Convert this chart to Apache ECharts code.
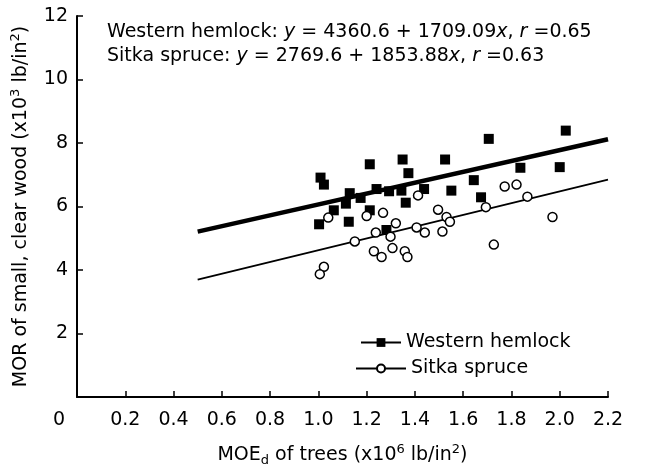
<!DOCTYPE html>
<html>
<head>
<meta charset="utf-8">
<script src="https://cdn.jsdelivr.net/npm/echarts@6/dist/echarts.min.js"></script>
<style>html,body{margin:0;padding:0;background:#fff}#c{width:645px;height:472px}</style>
</head>
<body>
<div id="c"></div>
<script>
// ---- data (MOE_d x10^6 lb/in^2, MOR x10^3 lb/in^2) ----
const hemlockPts = [[1.009,6.91],[1.023,6.69],[1.13,6.42],[1.213,7.33],[1.241,6.55],[1.114,6.09],[1.064,5.88],[1.003,5.44],[1.126,5.52],[1.175,6.27],[1.213,5.88],[1.293,6.48],[1.344,6.50],[1.349,7.48],[1.373,7.05],[1.362,6.12],[1.282,5.26],[1.438,6.55],[1.525,7.48],[1.551,6.50],[1.644,6.83],[1.674,6.29],[1.706,8.13],[2.025,8.39],[1.837,7.22],[2.0,7.24]];
const sitkaPts = [[1.041,5.65],[1.20,5.70],[1.268,5.80],[1.413,6.35],[1.496,5.90],[1.531,5.67],[1.545,5.52],[1.694,5.98],[1.321,5.47],[1.238,5.18],[1.299,5.05],[1.407,5.34],[1.441,5.18],[1.514,5.21],[1.151,4.90],[1.230,4.59],[1.262,4.41],[1.307,4.69],[1.358,4.59],[1.369,4.41],[1.023,4.10],[1.006,3.87],[1.727,4.80],[1.772,6.63],[1.821,6.69],[1.866,6.31],[1.97,5.67]];
const hemlockFit = [[0.5,5.21],[2.2,8.12]];
const sitkaFit = [[0.5,3.70],[2.2,6.85]];
const xTicks = [0.2,0.4,0.6,0.8,1.0,1.2,1.4,1.6,1.8,2.0,2.2];
const xLabels = [0,0.2,0.4,0.6,0.8,1.0,1.2,1.4,1.6,1.8,2.0,2.2];
const yTicks = [2,4,6,8,10,12];
const yLabels = [2,4,6,8,10,12];
const seriesNames = ['Western hemlock','Sitka spruce'];

const FONT = '"DejaVu Sans", "Liberation Sans", Arial, sans-serif';
const FS = 19;
const chart = echarts.init(document.getElementById('c'), null, {renderer:'canvas'});
chart.setOption({
  animation:false,
  backgroundColor:'#fff',
  textStyle:{fontFamily:FONT,color:'#000'},
  grid:{left:77,right:37,top:16,bottom:69,containLabel:false},
  title:{
    left:107, top:20, padding:0,
    text:'{n|Western hemlock: }{i|y}{n| = 4360.6 + 1709.09}{i|x}{n|, }{i|r}{n| =0.65}\n{n|Sitka spruce: }{i|y}{n| = 2769.6 + 1853.88}{i|x}{n|, }{i|r}{n| =0.63}',
    textStyle:{fontFamily:FONT,fontSize:FS,color:'#000',fontWeight:'normal',lineHeight:24,
      rich:{n:{fontFamily:FONT,fontSize:FS,color:'#000',lineHeight:24},i:{fontFamily:FONT,fontSize:FS,fontStyle:'italic',color:'#000',lineHeight:24}}}
  },
  legend:[
    {data:[seriesNames[0]],left:355,top:328,itemWidth:40,itemHeight:11,
      textStyle:{fontFamily:FONT,fontSize:FS,color:'#000'}},
    {data:[seriesNames[1]],left:350,top:354,itemWidth:50,itemHeight:10,
      textStyle:{fontFamily:FONT,fontSize:FS,color:'#000'}}
  ],
  xAxis:{
    type:'value',min:0,max:2.2,interval:0.2,
    name:'{n|MOE}{b|d}{n| of trees (x10}{s|6}{n| lb/in}{s|2}{n|)}',
    nameLocation:'middle',nameGap:46,
    nameTextStyle:{fontFamily:FONT,fontSize:FS,color:'#000',
      rich:{n:{fontFamily:FONT,fontSize:FS,color:'#000',lineHeight:24},
            s:{fontFamily:FONT,fontSize:13,color:'#000',verticalAlign:'top',lineHeight:24},
            b:{fontFamily:FONT,fontSize:13,color:'#000',verticalAlign:'bottom',lineHeight:24}}},
    axisLine:{show:true,onZero:false,lineStyle:{color:'#000',width:2}},
    axisTick:{show:true,inside:true,length:6,customValues:xTicks,lineStyle:{color:'#000',width:1.5}},
    axisLabel:{customValues:xLabels,margin:14,fontFamily:FONT,fontSize:FS,color:'#000',
      formatter:function(v){return v===0?'{z|0}':v.toFixed(1);},
      rich:{z:{fontFamily:FONT,fontSize:FS,color:'#000',padding:[0,36,0,0]}}},
    splitLine:{show:false}
  },
  yAxis:{
    type:'value',min:0,max:12,interval:2,
    name:'{n|MOR of small, clear wood (x10}{s|3}{n| lb/in}{s|2}{n|)}',
    nameLocation:'middle',nameRotate:90,nameGap:44,
    nameTextStyle:{fontFamily:FONT,fontSize:FS,color:'#000',
      rich:{n:{fontFamily:FONT,fontSize:FS,color:'#000',lineHeight:24},
            s:{fontFamily:FONT,fontSize:13,color:'#000',verticalAlign:'top',lineHeight:24}}},
    axisLine:{show:true,onZero:false,lineStyle:{color:'#000',width:2}},
    axisTick:{show:true,inside:true,length:6,customValues:yTicks,lineStyle:{color:'#000',width:1.5}},
    axisLabel:{customValues:yLabels,margin:9,fontFamily:FONT,fontSize:FS,color:'#000'},
    splitLine:{show:false}
  },
  series:[
    {type:'line',name:seriesNames[0],data:hemlockFit,symbol:'rect',showSymbol:false,silent:true,z:2,
      lineStyle:{color:'#000',width:4.5},itemStyle:{color:'#000'}},
    {type:'line',name:seriesNames[1],data:sitkaFit,symbol:'emptyCircle',showSymbol:false,silent:true,z:2,
      lineStyle:{color:'#000',width:1.8},itemStyle:{color:'#000'}},
    {type:'scatter',name:seriesNames[0],data:hemlockPts,symbol:'rect',symbolSize:10,z:3,
      itemStyle:{color:'#000',opacity:1}},
    {type:'scatter',name:seriesNames[1],data:sitkaPts,symbol:'circle',symbolSize:9,z:4,
      itemStyle:{color:'#fff',borderColor:'#000',borderWidth:1.5,opacity:1}}
  ]
});
</script>
</body>
</html>
